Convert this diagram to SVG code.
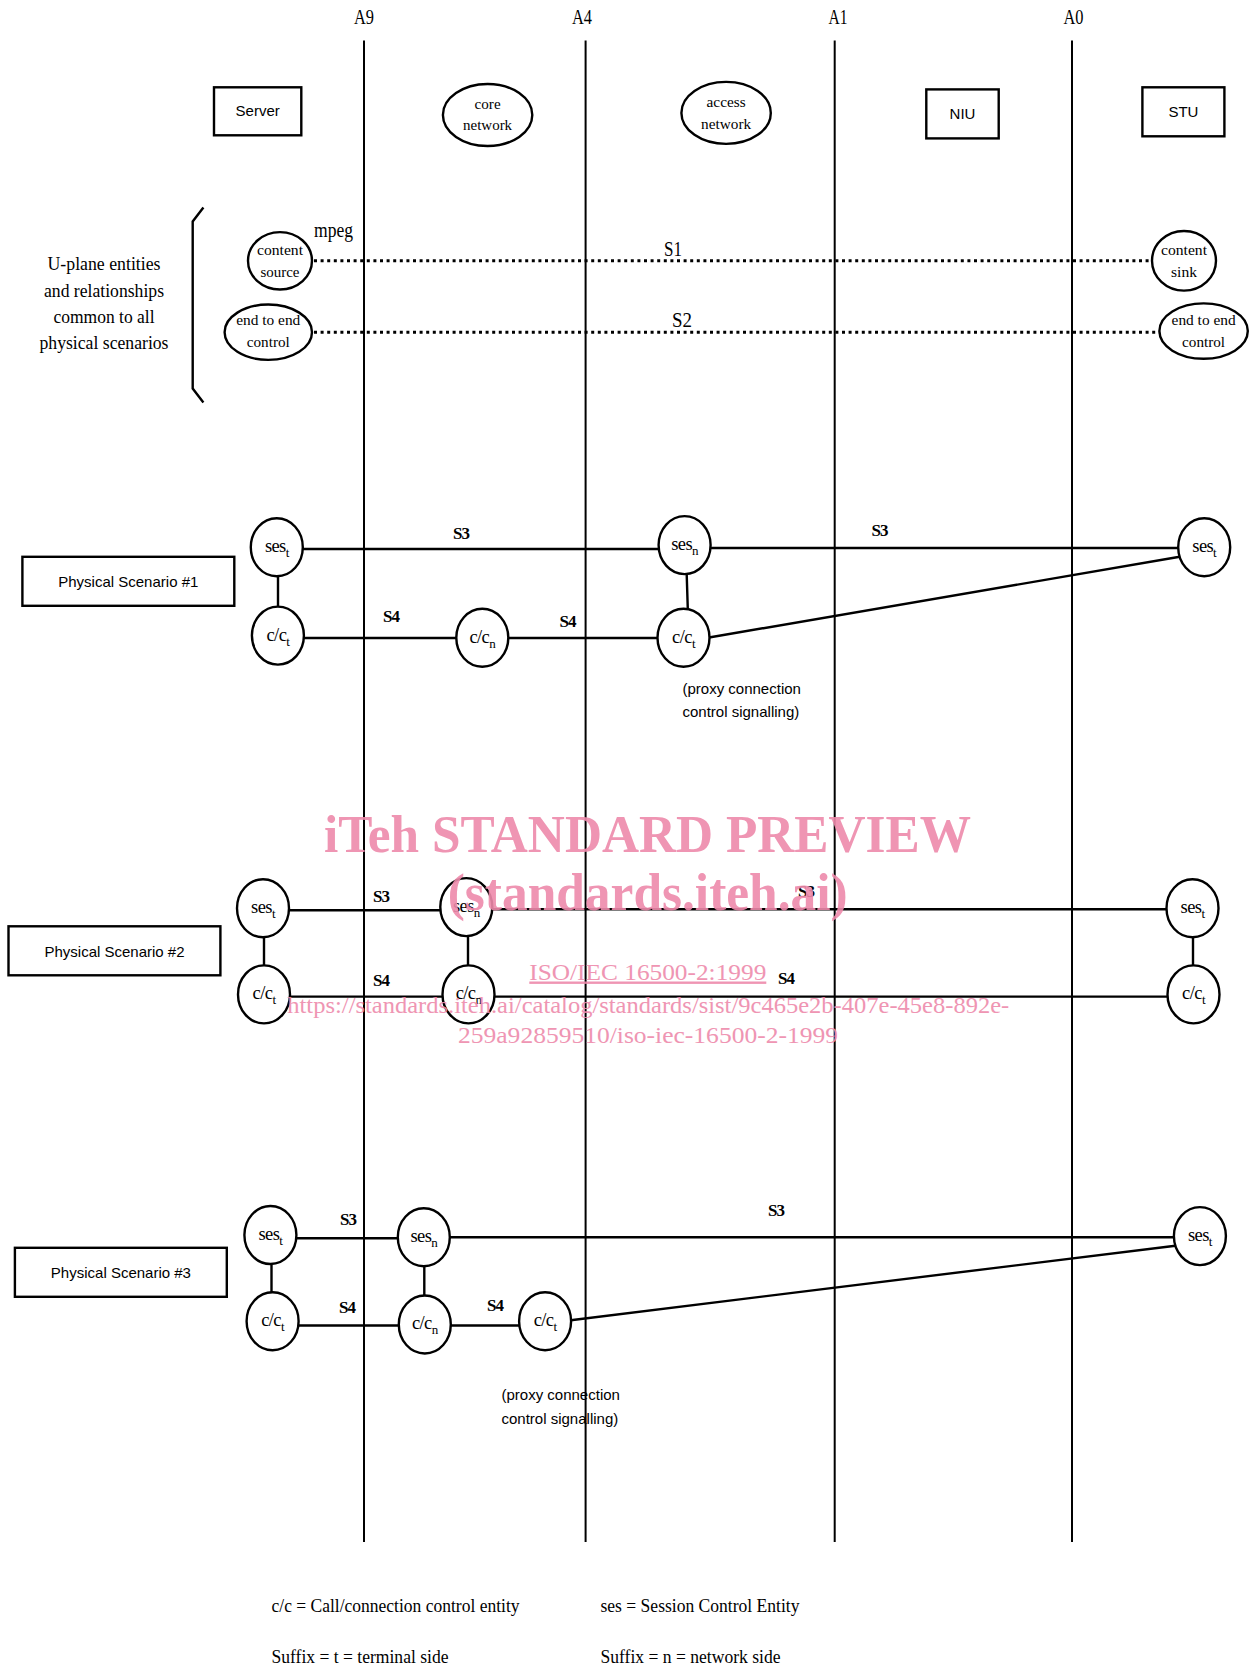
<svg xmlns="http://www.w3.org/2000/svg" width="1251" height="1669" viewBox="0 0 1251 1669">
  <style>
    .ref { stroke: #000; stroke-width: 2; fill: none; }
    .node { stroke: #000; stroke-width: 2.4; fill: #fff; }
    .box { stroke: #000; stroke-width: 2.4; fill: #fff; }
    .link { stroke: #000; stroke-width: 2.4; fill: none; }
    .dots { stroke: #000; stroke-width: 3; fill: none; stroke-dasharray: 3 3.6; }
    .serif { font-family: "Liberation Serif", "Times New Roman", serif; fill: #000; }
    .sans { font-family: "Liberation Sans", Arial, sans-serif; fill: #000; }
    .ifc { font-size: 21px; text-anchor: middle; }
    .small { font-size: 15px; text-anchor: middle; }
    .ent { font-size: 18.5px; text-anchor: middle; letter-spacing: -0.6px; }
    .sub { font-size: 13px; }
    .sig { font-size: 17px; font-weight: bold; text-anchor: middle; letter-spacing: -1px; }
    .side { font-size: 18px; text-anchor: middle; }
    .tag { font-size: 15px; text-anchor: middle; }
    .note { font-size: 15px; }
    .legend { font-size: 18px; }
    .wm { font-family: "Liberation Serif", "Times New Roman", serif; fill: #ee8aab; text-anchor: middle; }
    .wm-big { font-size: 52px; font-weight: bold; }
    .wm-small { font-size: 24px; }
  </style>

  <!-- reference points A9 / A4 / A1 / A0 -->
  <g id="reference-points">
    <line class="ref" x1="364" y1="40.5" x2="364" y2="1542"/>
    <line class="ref" x1="585.6" y1="40.5" x2="585.6" y2="1542"/>
    <line class="ref" x1="834.7" y1="40.5" x2="834.7" y2="1542"/>
    <line class="ref" x1="1072" y1="40.5" x2="1072" y2="1542"/>
    <text class="serif ifc" x="364" y="24" textLength="20" lengthAdjust="spacingAndGlyphs">A9</text>
    <text class="serif ifc" x="582" y="24" textLength="20" lengthAdjust="spacingAndGlyphs">A4</text>
    <text class="serif ifc" x="838" y="24" textLength="19" lengthAdjust="spacingAndGlyphs">A1</text>
    <text class="serif ifc" x="1073.5" y="24" textLength="20" lengthAdjust="spacingAndGlyphs">A0</text>
  </g>

  <!-- physical equipment row -->
  <g id="server">
    <rect class="box" x="214" y="87.3" width="87.3" height="48"/>
    <text class="sans tag" x="257.7" y="116">Server</text>
  </g>
  <g id="core-network">
    <ellipse class="node" cx="487.6" cy="115" rx="44.7" ry="31"/>
    <text class="serif small" x="487.6" y="108.6" textLength="26" lengthAdjust="spacingAndGlyphs">core</text>
    <text class="serif small" x="487.6" y="130" textLength="49" lengthAdjust="spacingAndGlyphs">network</text>
  </g>
  <g id="access-network">
    <ellipse class="node" cx="726.1" cy="112.9" rx="44.7" ry="31"/>
    <text class="serif small" x="726.1" y="106.5" textLength="39" lengthAdjust="spacingAndGlyphs">access</text>
    <text class="serif small" x="726.1" y="128.5" textLength="50" lengthAdjust="spacingAndGlyphs">network</text>
  </g>
  <g id="niu">
    <rect class="box" x="926.3" y="89.4" width="72.4" height="49"/>
    <text class="sans tag" x="962.5" y="119">NIU</text>
  </g>
  <g id="stu">
    <rect class="box" x="1142.4" y="87.3" width="82" height="49"/>
    <text class="sans tag" x="1183.4" y="117">STU</text>
  </g>

  <!-- U-plane entities common to all scenarios -->
  <g id="u-plane-caption">
    <polyline class="link" points="203.4,207.6 192.7,221.4 192.7,388.6 203.4,402.5"/>
    <text class="serif side" x="104" y="270" textLength="113" lengthAdjust="spacingAndGlyphs">U-plane entities</text>
    <text class="serif side" x="104" y="296.5" textLength="120" lengthAdjust="spacingAndGlyphs">and relationships</text>
    <text class="serif side" x="104" y="322.5" textLength="101" lengthAdjust="spacingAndGlyphs">common to all</text>
    <text class="serif side" x="104" y="349" textLength="129" lengthAdjust="spacingAndGlyphs">physical scenarios</text>
  </g>
  <g id="content-source">
    <ellipse class="node" cx="280" cy="260.8" rx="32" ry="28.7"/>
    <text class="serif small" x="280" y="254.5" textLength="46" lengthAdjust="spacingAndGlyphs">content</text>
    <text class="serif small" x="280" y="277" textLength="39" lengthAdjust="spacingAndGlyphs">source</text>
  </g>
  <g id="control-left">
    <ellipse class="node" cx="268.3" cy="332.2" rx="43.7" ry="27.7"/>
    <text class="serif small" x="268.3" y="325" textLength="64" lengthAdjust="spacingAndGlyphs">end to end</text>
    <text class="serif small" x="268.3" y="347" textLength="43" lengthAdjust="spacingAndGlyphs">control</text>
  </g>
  <g id="content-sink">
    <ellipse class="node" cx="1184" cy="260.8" rx="32" ry="29.8"/>
    <text class="serif small" x="1184" y="254.5" textLength="46" lengthAdjust="spacingAndGlyphs">content</text>
    <text class="serif small" x="1184" y="277" textLength="26" lengthAdjust="spacingAndGlyphs">sink</text>
  </g>
  <g id="control-right">
    <ellipse class="node" cx="1203.6" cy="331.1" rx="44.2" ry="27.7"/>
    <text class="serif small" x="1203.6" y="325" textLength="64" lengthAdjust="spacingAndGlyphs">end to end</text>
    <text class="serif small" x="1203.6" y="347" textLength="43" lengthAdjust="spacingAndGlyphs">control</text>
  </g>

  <!-- scenario titles -->
  <g id="scenario-1-title">
    <rect class="box" x="22.4" y="556.8" width="211.9" height="49"/>
    <text class="sans tag" x="128.3" y="587">Physical Scenario #1</text>
  </g>
  <g id="scenario-2-title">
    <rect class="box" x="8.5" y="926.3" width="211.9" height="49"/>
    <text class="sans tag" x="114.5" y="956.5">Physical Scenario #2</text>
  </g>
  <g id="scenario-3-title">
    <rect class="box" x="14.9" y="1247.8" width="211.9" height="49"/>
    <text class="sans tag" x="120.9" y="1278">Physical Scenario #3</text>
  </g>

  <!-- connectors -->
  <g id="connectors">
    <line class="dots" x1="314" y1="260.8" x2="1152" y2="260.8"/>
    <line class="dots" x1="314" y1="332.2" x2="1159.5" y2="332.2"/>

    <!-- scenario 1 -->
    <line class="link" x1="303" y1="549" x2="658.6" y2="549"/>
    <line class="link" x1="710.6" y1="548" x2="1178.5" y2="548"/>
    <line class="link" x1="278" y1="577" x2="278" y2="606.5"/>
    <line class="link" x1="686.7" y1="574.5" x2="687.8" y2="609"/>
    <line class="link" x1="304" y1="638" x2="456.3" y2="638"/>
    <line class="link" x1="508.3" y1="638" x2="657.5" y2="638"/>
    <line class="link" x1="709" y1="637.5" x2="1179.7" y2="556.8"/>

    <!-- scenario 2 -->
    <line class="link" x1="289" y1="910.3" x2="440.3" y2="910.3"/>
    <line class="link" x1="492.3" y1="909.3" x2="1166.5" y2="909.3"/>
    <line class="link" x1="264" y1="938" x2="264" y2="966"/>
    <line class="link" x1="468" y1="937" x2="468" y2="966"/>
    <line class="link" x1="1193" y1="938" x2="1193" y2="966"/>
    <line class="link" x1="290" y1="996.6" x2="442.5" y2="996.6"/>
    <line class="link" x1="494.5" y1="996.6" x2="1167.5" y2="996.6"/>

    <!-- scenario 3 -->
    <line class="link" x1="296.4" y1="1238.2" x2="397.8" y2="1238.2"/>
    <line class="link" x1="449.8" y1="1237.2" x2="1173.9" y2="1237.2"/>
    <line class="link" x1="271.5" y1="1264.5" x2="271.5" y2="1292.5"/>
    <line class="link" x1="424.3" y1="1266.5" x2="424.3" y2="1295.5"/>
    <line class="link" x1="298.6" y1="1325.5" x2="398.8" y2="1325.5"/>
    <line class="link" x1="450.8" y1="1325.5" x2="519.1" y2="1325.5"/>
    <line class="link" x1="570.7" y1="1320.2" x2="1175.4" y2="1245.7"/>
  </g>

  <!-- signalling interface labels -->
  <g id="signal-labels">
    <text class="serif ifc" x="673" y="255.5" textLength="18" lengthAdjust="spacingAndGlyphs">S1</text>
    <text class="serif ifc" x="682" y="327" textLength="20" lengthAdjust="spacingAndGlyphs">S2</text>
    <text class="serif ifc" x="333.5" y="237" textLength="39" lengthAdjust="spacingAndGlyphs">mpeg</text>

    <text class="serif sig" x="461" y="539">S3</text>
    <text class="serif sig" x="879.5" y="535.5">S3</text>
    <text class="serif sig" x="391" y="622">S4</text>
    <text class="serif sig" x="567.5" y="627">S4</text>

    <text class="serif sig" x="381" y="902">S3</text>
    <text class="serif sig" x="381" y="986">S4</text>
    <text class="serif sig" x="806" y="896.5">S3</text>
    <text class="serif sig" x="786" y="984">S4</text>

    <text class="serif sig" x="348" y="1224.5">S3</text>
    <text class="serif sig" x="347" y="1312.8">S4</text>
    <text class="serif sig" x="495" y="1310.7">S4</text>
    <text class="serif sig" x="776" y="1216">S3</text>
  </g>

  <!-- scenario 1 entities -->
  <g id="s1-ses-t">
    <ellipse class="node" cx="276.8" cy="547.3" rx="26" ry="29"/>
    <text class="serif ent" x="276.8" y="552">ses<tspan class="sub" dy="5">t</tspan></text>
  </g>
  <g id="s1-cc-t">
    <ellipse class="node" cx="277.9" cy="635.6" rx="26" ry="29"/>
    <text class="serif ent" x="277.9" y="640.5">c/c<tspan class="sub" dy="5">t</tspan></text>
  </g>
  <g id="s1-cc-n">
    <ellipse class="node" cx="482.3" cy="637.8" rx="26" ry="29"/>
    <text class="serif ent" x="482.3" y="642.5">c/c<tspan class="sub" dy="5">n</tspan></text>
  </g>
  <g id="s1-ses-n">
    <ellipse class="node" cx="684.6" cy="545.1" rx="26" ry="29"/>
    <text class="serif ent" x="684.6" y="550">ses<tspan class="sub" dy="5">n</tspan></text>
  </g>
  <g id="s1-cc-t-proxy">
    <ellipse class="node" cx="683.5" cy="637.8" rx="26" ry="29"/>
    <text class="serif ent" x="683.5" y="642.5">c/c<tspan class="sub" dy="5">t</tspan></text>
    <text class="sans note" x="682.5" y="694">(proxy connection</text>
    <text class="sans note" x="682.5" y="716.5">control signalling)</text>
  </g>
  <g id="s1-ses-t-stu">
    <ellipse class="node" cx="1204.2" cy="547.3" rx="26" ry="29"/>
    <text class="serif ent" x="1204.2" y="552">ses<tspan class="sub" dy="5">t</tspan></text>
  </g>

  <!-- scenario 2 entities -->
  <g id="s2-ses-t">
    <ellipse class="node" cx="263" cy="908.2" rx="26" ry="29"/>
    <text class="serif ent" x="263" y="913">ses<tspan class="sub" dy="5">t</tspan></text>
  </g>
  <g id="s2-cc-t">
    <ellipse class="node" cx="264" cy="994.4" rx="26" ry="29"/>
    <text class="serif ent" x="264" y="999.3">c/c<tspan class="sub" dy="5">t</tspan></text>
  </g>
  <g id="s2-ses-n">
    <ellipse class="node" cx="466.3" cy="907.1" rx="26" ry="29"/>
    <text class="serif ent" x="466.3" y="912">ses<tspan class="sub" dy="5">n</tspan></text>
  </g>
  <g id="s2-cc-n">
    <ellipse class="node" cx="468.5" cy="994.4" rx="26" ry="29"/>
    <text class="serif ent" x="468.5" y="999.3">c/c<tspan class="sub" dy="5">n</tspan></text>
  </g>
  <g id="s2-ses-t-stu">
    <ellipse class="node" cx="1192.5" cy="908.2" rx="26" ry="29"/>
    <text class="serif ent" x="1192.5" y="913">ses<tspan class="sub" dy="5">t</tspan></text>
  </g>
  <g id="s2-cc-t-stu">
    <ellipse class="node" cx="1193.5" cy="994.4" rx="26" ry="29"/>
    <text class="serif ent" x="1193.5" y="999.3">c/c<tspan class="sub" dy="5">t</tspan></text>
  </g>

  <!-- scenario 3 entities -->
  <g id="s3-ses-t">
    <ellipse class="node" cx="270.4" cy="1235" rx="26" ry="29"/>
    <text class="serif ent" x="270.4" y="1240">ses<tspan class="sub" dy="5">t</tspan></text>
  </g>
  <g id="s3-cc-t">
    <ellipse class="node" cx="272.6" cy="1321.3" rx="26" ry="29"/>
    <text class="serif ent" x="272.6" y="1326.2">c/c<tspan class="sub" dy="5">t</tspan></text>
  </g>
  <g id="s3-ses-n">
    <ellipse class="node" cx="423.8" cy="1237.2" rx="26" ry="29"/>
    <text class="serif ent" x="423.8" y="1242">ses<tspan class="sub" dy="5">n</tspan></text>
  </g>
  <g id="s3-cc-n">
    <ellipse class="node" cx="424.8" cy="1324.5" rx="26" ry="29"/>
    <text class="serif ent" x="424.8" y="1329.4">c/c<tspan class="sub" dy="5">n</tspan></text>
  </g>
  <g id="s3-cc-t-proxy">
    <ellipse class="node" cx="545.1" cy="1321.3" rx="26" ry="29"/>
    <text class="serif ent" x="545.1" y="1326.2">c/c<tspan class="sub" dy="5">t</tspan></text>
    <text class="sans note" x="501.5" y="1400">(proxy connection</text>
    <text class="sans note" x="501.5" y="1423.5">control signalling)</text>
  </g>
  <g id="s3-ses-t-stu">
    <ellipse class="node" cx="1199.9" cy="1236.1" rx="26" ry="29"/>
    <text class="serif ent" x="1199.9" y="1241">ses<tspan class="sub" dy="5">t</tspan></text>
  </g>

  <!-- legend -->
  <g id="legend">
    <text class="serif legend" x="271.5" y="1612" textLength="248" lengthAdjust="spacingAndGlyphs">c/c = Call/connection control entity</text>
    <text class="serif legend" x="600.5" y="1612" textLength="199" lengthAdjust="spacingAndGlyphs">ses = Session Control Entity</text>
    <text class="serif legend" x="271.5" y="1663" textLength="177" lengthAdjust="spacingAndGlyphs">Suffix = t = terminal side</text>
    <text class="serif legend" x="600.5" y="1663" textLength="180" lengthAdjust="spacingAndGlyphs">Suffix = n = network side</text>
  </g>

  <!-- publisher stamp -->
  <g id="stamp" opacity="0.9">
    <text class="wm wm-big" x="647.5" y="852" textLength="647" lengthAdjust="spacingAndGlyphs">iTeh STANDARD PREVIEW</text>
    <text class="wm wm-big" x="647.7" y="910" textLength="400" lengthAdjust="spacingAndGlyphs">(standards.iteh.ai)</text>
    <text class="wm wm-small" x="647.8" y="979.5" textLength="237" lengthAdjust="spacingAndGlyphs" text-decoration="underline">ISO/IEC 16500-2:1999</text>
    <text class="wm wm-small" x="648.3" y="1012.5" textLength="722" lengthAdjust="spacingAndGlyphs">https://standards.iteh.ai/catalog/standards/sist/9c465e2b-407e-45e8-892e-</text>
    <text class="wm wm-small" x="648" y="1043.4" textLength="380" lengthAdjust="spacingAndGlyphs">259a92859510/iso-iec-16500-2-1999</text>
  </g>
</svg>
